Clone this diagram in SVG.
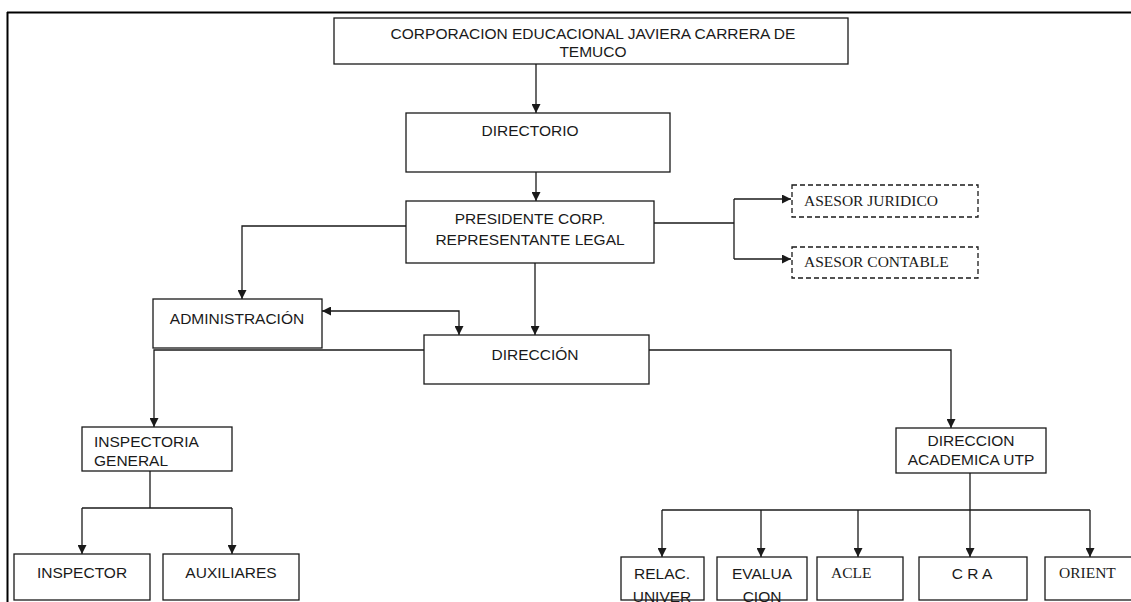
<svg xmlns="http://www.w3.org/2000/svg" width="1131" height="602" viewBox="0 0 1131 602">
<style>
.box{fill:#fff;stroke:#1a1a1a;stroke-width:1.3}
.dash{fill:#fff;stroke:#1a1a1a;stroke-width:1.3;stroke-dasharray:5 3}
.s{font-family:"Liberation Sans",Arial,sans-serif;font-size:15.5px;fill:#1a1a1a}
.r{font-family:"Liberation Serif","Times New Roman",serif;font-size:15.5px;fill:#1a1a1a}
.c{text-anchor:middle}
.ln{fill:none;stroke:#1a1a1a;stroke-width:1.3}
.ar{marker-end:url(#ah)}
</style>
<defs>
<marker id="ah" viewBox="0 0 10 10" refX="10" refY="5" markerUnits="userSpaceOnUse" markerWidth="9" markerHeight="9" orient="auto-start-reverse">
<path d="M0,0 L10,5 L0,10 z" fill="#1a1a1a"/>
</marker>
</defs>
<rect x="0" y="0" width="1131" height="602" fill="#fff"/>
<g id="frame">
<line x1="7" y1="12.5" x2="1131" y2="12.5" stroke="#000" stroke-width="2"/>
<line x1="7.5" y1="12" x2="7.5" y2="602" stroke="#000" stroke-width="2"/>
</g>
<g id="connectors">
<path class="ln ar" d="M536 64 V113"/>
<path class="ln ar" d="M536 172 V201"/>
<path class="ln ar" d="M406 226 H242 V299"/>
<path class="ln ar" d="M535 263 V335"/>
<path class="ln" d="M322 311 H459 V335" marker-start="url(#ah)" marker-end="url(#ah)"/>
<path class="ln" d="M654 223 H734"/>
<path class="ln" d="M734 199 V259"/>
<path class="ln ar" d="M734 199 H791"/>
<path class="ln ar" d="M734 259 H791"/>
<path class="ln ar" d="M424 350 H154 V427"/>
<path class="ln ar" d="M649 350 H951 V428"/>
<path class="ln" d="M150 471 V508"/>
<path class="ln" d="M82 508 H232"/>
<path class="ln ar" d="M82 508 V554"/>
<path class="ln ar" d="M232 508 V554"/>
<path class="ln" d="M970 473 V510"/>
<path class="ln" d="M662 510 H1090"/>
<path class="ln ar" d="M662 510 V557"/>
<path class="ln ar" d="M761 510 V557"/>
<path class="ln ar" d="M858 510 V557"/>
<path class="ln ar" d="M970 510 V557"/>
<path class="ln ar" d="M1090 510 V557"/>
</g>
<g id="corporacion">
<rect class="box" x="334" y="18" width="514" height="46"/>
<text class="s c" x="593" y="39">CORPORACION EDUCACIONAL JAVIERA CARRERA DE</text>
<text class="s c" x="593" y="57">TEMUCO</text>
</g>
<g id="directorio">
<rect class="box" x="406" y="113" width="264" height="59"/>
<text class="s c" x="530" y="136">DIRECTORIO</text>
</g>
<g id="presidente">
<rect class="box" x="406" y="201" width="248" height="62"/>
<text class="s c" x="530" y="224">PRESIDENTE CORP.</text>
<text class="s c" x="530" y="245">REPRESENTANTE LEGAL</text>
</g>
<g id="asesor-juridico">
<rect class="dash" x="792" y="185" width="186" height="32"/>
<text class="r" x="804" y="206">ASESOR JURIDICO</text>
</g>
<g id="asesor-contable">
<rect class="dash" x="792" y="247" width="186" height="31"/>
<text class="r" x="804" y="267">ASESOR CONTABLE</text>
</g>
<g id="administracion">
<rect class="box" x="153" y="299" width="169" height="49"/>
<text class="s c" x="237" y="324">ADMINISTRACIÓN</text>
</g>
<g id="direccion">
<rect class="box" x="424" y="335" width="225" height="49"/>
<text class="s c" x="535" y="360">DIRECCIÓN</text>
</g>
<g id="inspectoria">
<rect class="box" x="82" y="427" width="150" height="44"/>
<text class="s" x="94" y="447">INSPECTORIA</text>
<text class="s" x="94" y="466">GENERAL</text>
</g>
<g id="direccion-academica">
<rect class="box" x="896" y="428" width="150" height="45"/>
<text class="s c" x="971" y="446">DIRECCION</text>
<text class="s c" x="971" y="465">ACADEMICA UTP</text>
</g>
<g id="inspector">
<rect class="box" x="14" y="554" width="136" height="46"/>
<text class="s c" x="82" y="578">INSPECTOR</text>
</g>
<g id="auxiliares">
<rect class="box" x="163" y="554" width="136" height="46"/>
<text class="s c" x="231" y="578">AUXILIARES</text>
</g>
<g id="relac">
<rect class="box" x="621" y="557" width="83" height="43"/>
<text class="s c" x="662" y="579">RELAC.</text>
<text class="s c" x="662" y="602">UNIVER</text>
</g>
<g id="evaluacion">
<rect class="box" x="717" y="557" width="90" height="43"/>
<text class="s c" x="762" y="579">EVALUA</text>
<text class="s c" x="762" y="602">CION</text>
</g>
<g id="acle">
<rect class="box" x="817" y="557" width="86" height="43"/>
<text class="r" x="831" y="578">ACLE</text>
</g>
<g id="cra">
<rect class="box" x="919" y="557" width="108" height="43"/>
<text class="s c" x="972" y="579">C R A</text>
</g>
<g id="orient">
<rect class="box" x="1045" y="557" width="95" height="43"/>
<text class="r" x="1059" y="578">ORIENT</text>
</g>
</svg>
